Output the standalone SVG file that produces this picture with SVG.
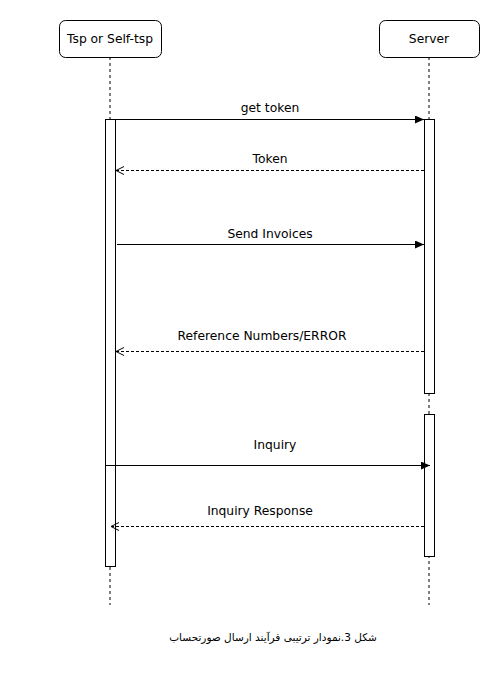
<svg xmlns="http://www.w3.org/2000/svg" width="488" height="676" viewBox="0 0 488 676">
<style>
.box{fill:#fff;stroke:#000;stroke-width:1}
.act{fill:#fff;stroke:#000;stroke-width:1}
.life{stroke:#000;stroke-width:1;stroke-dasharray:3,3;fill:none}
.msg{stroke:#000;stroke-width:1;fill:none}
.ret{stroke:#000;stroke-width:1;fill:none;stroke-dasharray:3,2}
text{font-family:"DejaVu Sans",Verdana,sans-serif;font-size:12.3px;fill:#000;text-anchor:middle}
.cap{font-size:10.5px}
</style>
<defs>
<marker id="filled" markerWidth="10" markerHeight="8" refX="9" refY="4" orient="auto" markerUnits="userSpaceOnUse">
<path d="M0,0 L9,4 L0,8 Z" fill="#000"/>
</marker>
<marker id="open" markerWidth="10" markerHeight="10" refX="9" refY="5" orient="auto" markerUnits="userSpaceOnUse">
<path d="M1,1 L9,5 L1,9" fill="none" stroke="#000" stroke-width="1"/>
</marker>
</defs>
<rect width="488" height="676" fill="#fff"/>
<g id="lifelines">
<line class="life" x1="110" y1="57" x2="110" y2="605"/>
<line class="life" x1="429" y1="57" x2="429" y2="605"/>
</g>
<g id="tsp">
<rect class="box" x="59.5" y="20.5" width="102" height="37" rx="6"/>
<text x="110" y="43">Tsp or Self-tsp</text>
<rect class="act" x="105.5" y="119.5" width="10" height="447"/>
</g>
<g id="server">
<rect class="box" x="379.5" y="20.5" width="100" height="37" rx="6"/>
<text x="429" y="43">Server</text>
<rect class="act" x="424.5" y="119.5" width="10" height="274"/>
<rect class="act" x="424.5" y="414.5" width="10" height="142"/>
</g>
<g id="connectors">
<line class="msg" x1="105" y1="119.5" x2="424" y2="119.5" marker-end="url(#filled)"/>
<text x="270" y="112">get token</text>
<line class="ret" x1="424" y1="170.5" x2="116" y2="170.5" marker-end="url(#open)"/>
<text x="270" y="163">Token</text>
<line class="msg" x1="117" y1="244.5" x2="424" y2="244.5" marker-end="url(#filled)"/>
<text x="270" y="238">Send Invoices</text>
<line class="ret" x1="424" y1="351.5" x2="116" y2="351.5" marker-end="url(#open)"/>
<text x="262" y="340">Reference Numbers/ERROR</text>
<line class="msg" x1="105" y1="465.5" x2="430" y2="465.5" marker-end="url(#filled)"/>
<text x="275" y="449">Inquiry</text>
<line class="ret" x1="424" y1="526.5" x2="111" y2="526.5" marker-end="url(#open)"/>
<text x="260" y="515">Inquiry Response</text>
</g>
<text class="cap" x="273" y="641" direction="rtl" style="font-family:'DejaVu Sans',sans-serif">شکل 3.نمودار ترتیبی فرآیند ارسال صورتحساب</text>
</svg>
